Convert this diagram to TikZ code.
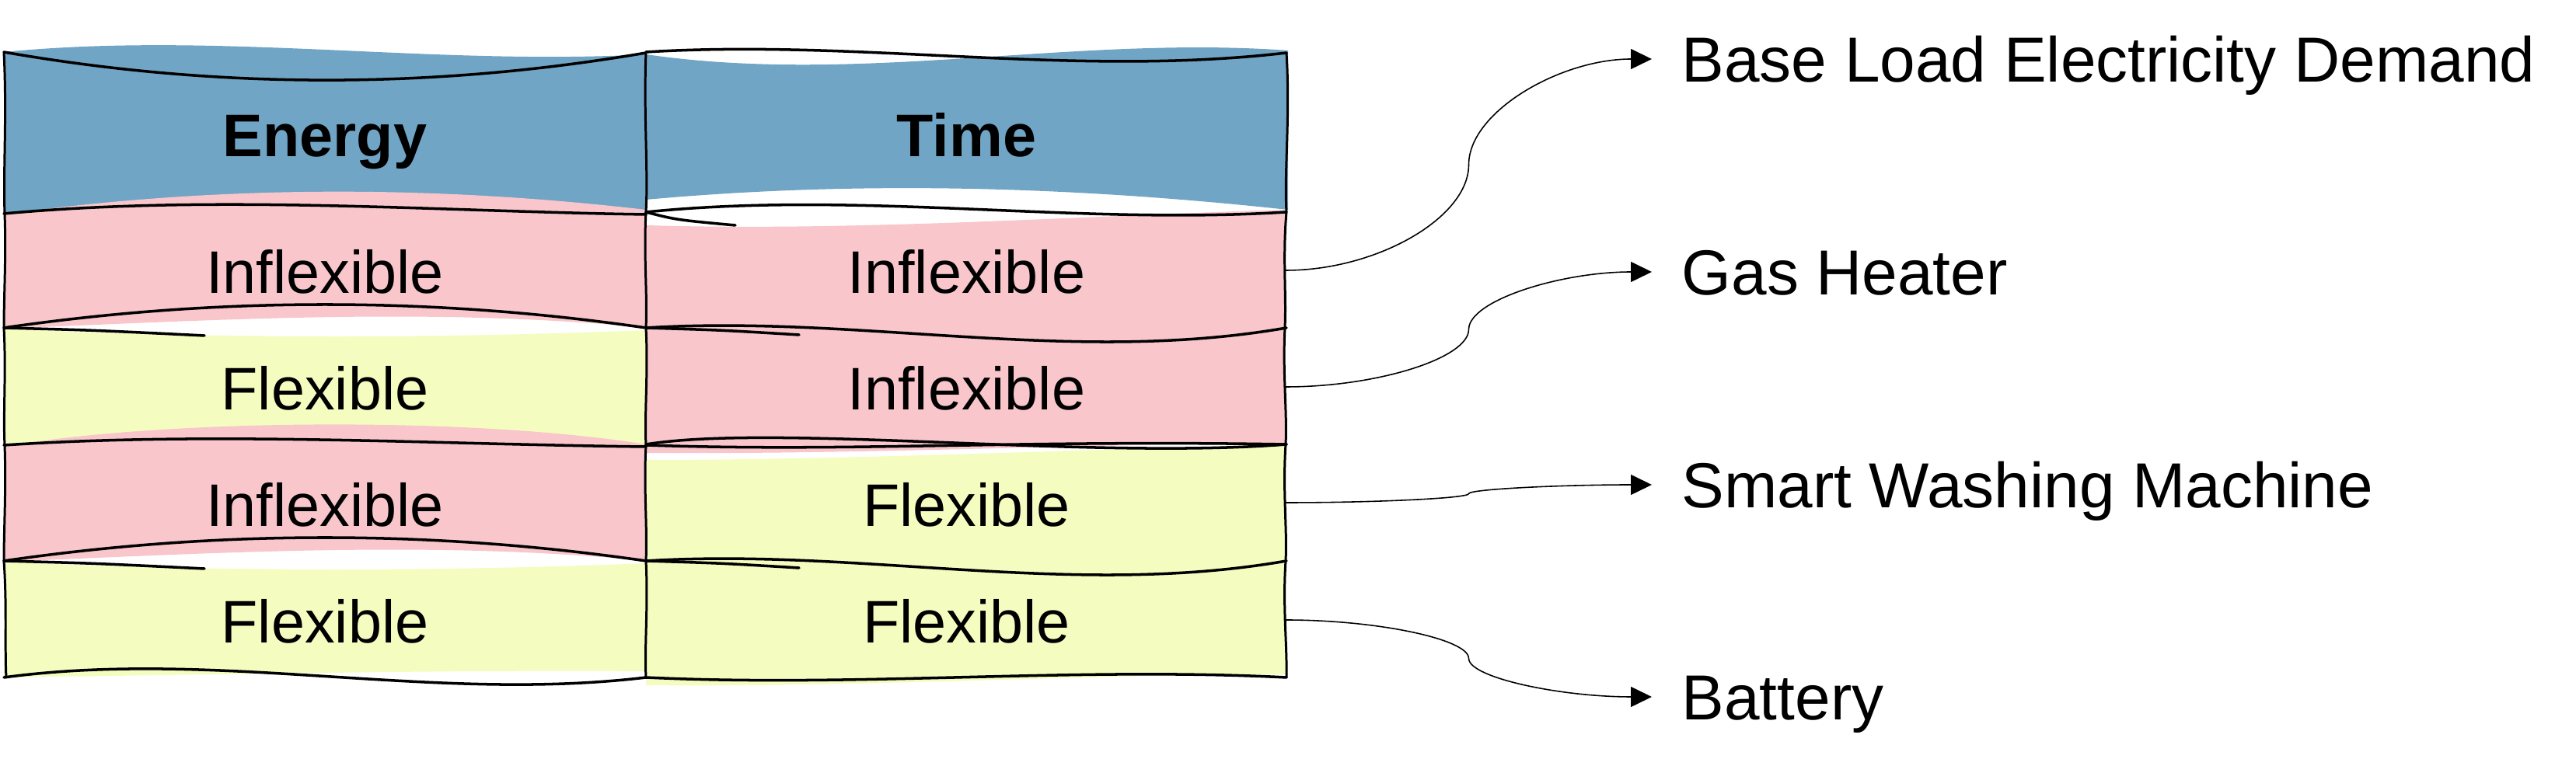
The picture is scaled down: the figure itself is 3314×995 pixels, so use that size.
\documentclass[tikz,border=0pt]{standalone}
\usepackage{fontspec}
\setmainfont{Liberation Sans}
\usepackage{tikz}
\usetikzlibrary{arrows.meta,calc}
\definecolor{hdrblue}{HTML}{70A5C5}
\definecolor{inflex}{HTML}{F8C6CB}
\definecolor{flex}{HTML}{F4FDBF}
\tikzstyle{cell} = [font=\fontsize{22}{26}\selectfont, text height=15.75pt, text depth=0pt, inner sep=0pt]
\tikzstyle{hdr} = [cell, font=\fontsize{22}{26}\selectfont\bfseries]
\tikzstyle{lbl} = [anchor=west, inner xsep=0.38cm, inner ysep=0pt, font=\fontsize{23.3}{28}\selectfont, text height=16.7pt, text depth=0pt]
\tikzstyle{hl} = [draw, line width=1pt, black, line cap=round]
\tikzstyle{vl} = [draw, line width=0.85pt, black, line cap=round]
\tikzstyle{link} = [draw, line width=0.45pt, -{Triangle[length=2.7mm,width=2.6mm]}]
\newcommand{\curvelink}[2]{%
  \draw[link] (#1) let \p1=(#1), \p2=(#2.west) in
    .. controls ({0.75*\x1+0.25*\x2},\y1) and ({0.5*\x1+0.5*\x2},{0.75*\y1+0.25*\y2})
    .. ({0.5*\x1+0.5*\x2},{0.5*\y1+0.5*\y2})
    .. controls ({0.5*\x1+0.5*\x2},{0.25*\y1+0.75*\y2}) and ({0.25*\x1+0.75*\x2},\y2)
    .. (#2.west);}

\begin{document}
\begin{tikzpicture}[
    x=0.01cm, y=-0.01cm,
    node distance=1.5cm
]
\useasboundingbox (0,0) rectangle (3314,995);

% Fills
\fill[hdrblue] (5,67) .. controls (280,40) and (556,85) .. (831,70) -- (831,275) .. controls (556,272) and (280,272) .. (5,275) -- cycle;
\fill[hdrblue] (831,70) .. controls (1106,110) and (1380,45) .. (1657,65) -- (1657,270) .. controls (1380,240) and (1106,232) .. (831,257) -- cycle;
\fill[inflex] (5,276) .. controls (280,238) and (556,238) .. (831,270) -- (831,422) .. controls (556,395) and (280,412) .. (5,423) -- cycle;
\fill[inflex] (831,290) .. controls (1106,298) and (1380,278) .. (1655,270) -- (1653,430) -- (831,430) -- cycle;
\fill[flex] (5,423) .. controls (280,436) and (556,436) .. (831,425) -- (831,575) .. controls (556,565) and (280,560) .. (5,573) -- cycle;
\fill[inflex] (831,425) -- (1653,425) -- (1653,570) .. controls (1380,572) and (1106,585) .. (831,583) -- cycle;
\fill[inflex] (5,575) .. controls (200,540) and (600,535) .. (831,572) -- (831,722) .. controls (556,695) and (280,712) .. (5,723) -- cycle;
\fill[flex] (831,592) .. controls (1100,592) and (1400,578) .. (1655,572) -- (1653,725) -- (831,725) -- cycle;
\fill[flex] (5,723) .. controls (280,736) and (556,736) .. (831,725) -- (831,864) .. controls (600,862) and (300,868) .. (5,872) -- cycle;
\fill[flex] (831,722) -- (1653,722) -- (1655,868) .. controls (1400,868) and (1100,885) .. (831,882) -- cycle;

% Grid
\draw[hl] (5,67) .. controls (280,115) and (556,115) .. (831,68);
\draw[hl] (831,67) .. controls (1106,50) and (1380,100) .. (1655,68);
\draw[hl] (5,275) .. controls (280,250) and (556,272) .. (831,276);
\draw[hl] (831,273) .. controls (1106,245) and (1380,290) .. (1655,273);
\draw[hl] (831,273) .. controls (870,283) .. (946,290);
\draw[hl] (5,422) .. controls (280,382) and (556,382) .. (831,422);
\draw[hl] (5,422) .. controls (120,425) .. (263,432);
\draw[hl] (831,422) .. controls (1106,405) and (1380,470) .. (1655,422);
\draw[hl] (831,422) .. controls (930,425) .. (1028,431);
\draw[hl] (5,573) .. controls (280,555) and (556,572) .. (831,575);
\draw[hl] (831,572) .. controls (1000,545) and (1400,592) .. (1655,572);
\draw[hl] (831,573) .. controls (1100,582) and (1300,566) .. (1655,572);
\draw[hl] (5,722) .. controls (280,682) and (556,682) .. (831,722);
\draw[hl] (5,722) .. controls (120,725) .. (263,732);
\draw[hl] (831,722) .. controls (1106,705) and (1380,770) .. (1655,722);
\draw[hl] (831,722) .. controls (930,725) .. (1028,731);
\draw[hl] (5,872) .. controls (280,835) and (556,905) .. (831,872);
\draw[hl] (831,872) .. controls (1106,885) and (1380,858) .. (1655,872);
\draw[vl] (5,67) .. controls (9,150) and (4,220) .. (6,275) .. controls (8,330) and (5,380) .. (5,422)
  .. controls (8,480) and (4,530) .. (6,573) .. controls (8,630) and (5,680) .. (5,722)
  .. controls (9,780) and (6,830) .. (8,872);
\draw[vl] (831,67) .. controls (828,150) and (834,220) .. (831,273) .. controls (828,330) and (833,380) .. (831,422)
  .. controls (834,480) and (829,530) .. (831,573) .. controls (828,630) and (833,680) .. (831,722)
  .. controls (834,780) and (829,830) .. (831,872);
\draw[vl] (1655,68) .. controls (1660,150) and (1652,220) .. (1655,273) .. controls (1650,330) and (1655,380) .. (1653,422)
  .. controls (1650,480) and (1656,530) .. (1654,572) .. controls (1650,630) and (1656,680) .. (1654,722)
  .. controls (1650,780) and (1656,830) .. (1655,872);

% Nodes
\node[hdr] (E0) at (418,174) {Energy};
\node[hdr] (T0) [right of=E0, node distance=8.25cm] {Time};
\node[cell] (E1) at (418,350) {Inflexible};
\node[cell] (E2) [below of=E1] {Flexible};
\node[cell] (E3) [below of=E2] {Inflexible};
\node[cell] (E4) [below of=E3] {Flexible};
\node[cell] (T1) [right of=E1, node distance=8.25cm] {Inflexible};
\node[cell] (T2) [right of=E2, node distance=8.25cm] {Inflexible};
\node[cell] (T3) [right of=E3, node distance=8.25cm] {Flexible};
\node[cell] (T4) [right of=E4, node distance=8.25cm] {Flexible};

\node[lbl] (BL) at (2125,76) {Base Load Electricity Demand};
\node[lbl] (GH) at (2125,350) {Gas Heater};
\node[lbl] (SWM) at (2125,624) {Smart Washing Machine};
\node[lbl] (B) at (2125,897) {Battery};

\coordinate (r1) at (1654,348);
\coordinate (r2) at (1654,498);
\coordinate (r3) at (1654,647);
\coordinate (r4) at (1654,798);

% Arrows
\curvelink{r1}{BL}
\curvelink{r2}{GH}
\curvelink{r3}{SWM}
\curvelink{r4}{B}

\end{tikzpicture}
\end{document}
